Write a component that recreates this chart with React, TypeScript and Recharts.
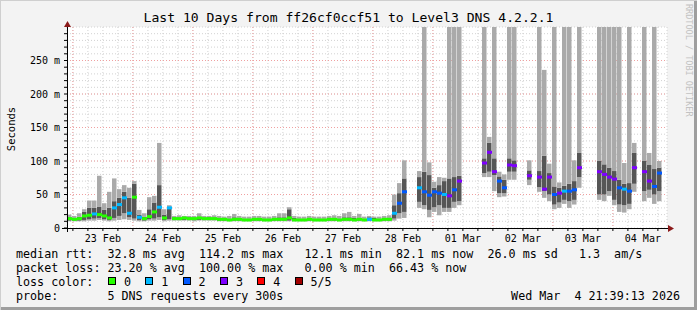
import { ComposedChart, Bar, Scatter, XAxis, YAxis, CartesianGrid } from 'recharts';

// smokeping style: 10 days, one bin = 2 hours, times in hours from 23 Feb 00:00
const N = null;
const START_HOUR = -2.35;
const BIN_HOURS = 2;
const Y_MAX = 300;

const dayLabels = ['23 Feb', '24 Feb', '25 Feb', '26 Feb', '27 Feb', '28 Feb', '01 Mar', '02 Mar', '03 Mar', '04 Mar'];
const lossColors = ['#26ff00', '#00b8ff', '#0059ff', '#7e00ff', '#ff0000', '#a10000'];
const lossLabels = ['0', '1', '2', '3', '4', '5/5'];

// rtt in ms (values above 300 run off the top of the graph)
const minRtt = [
  10, 10, 10, 10, 11, 11, 12, 11, 10, 11,
  12, 13, 12, 11, 10, 10, 11, 11, 12, 10, 11,
  11, 11, 11, 11, 10, 11, 11, 11, 11,
  10, 10, 10, 10, 10, 10, 10, 10, 10, 10, 10, 10, 10, 10, 10, 10, 10, 10,
  10, 10, 10, 10, 10, 10, 10, 10, 10, 10, 10, 10, 10, 10, 10, 10, 10,
  11, 14, 15, N, N, 30, 28, 16, 24, 19, 24, 24, 30, 34, N, N, N, N, 76, 76,
  55, 46, 47, 72, 72, N, N, 64, N, 54, 45, 40, 28, 30, 36, 30, 35, 60, N, N,
  N, 42, 40, 48, 34, 24, 23, 28, 54, N, 40, 45, 36, 40, N,
];
const lowRtt = [
  11, 11, 11, 12, 13, 14, 15, 13, 12, 15,
  18, 22, 16, 14, 12, 11, 13, 14, 16, 12, 13,
  12, 12, 12, 12, 12, 12, 12, 12, 12,
  11, 11, 11, 11, 11, 11, 11, 11, 11, 11, 11, 11, 11, 11, 11, 11, 11, 11,
  11, 11, 11, 11, 11, 11, 11, 11, 11, 11, 11, 11, 11, 11, 11, 11, 11,
  14, 22, 24, N, N, 39, 34, 27, 31, 34, 30, 30, 39, 40, N, N, N, N, 82, 84,
  79, 52, 52, 84, 84, N, N, 72, N, 61, 55, 50, 35, 38, 42, 40, 42, 76, N, N,
  N, 50, 50, 55, 42, 35, 34, 36, 66, N, 55, 57, 50, 55, N,
];
const medRtt = [
  14, 13, 14, 18, 19, 21, 20, 18, 15, 30,
  35, 45, 22, 46, 16, 14, 17, 24, 31, 15, 30,
  14, 14, 15, 14, 14, 15, 14, 14, 14,
  13, 13, 12, 13, 13, 12, 12, 13, 13, 12, 12, 13, 13, 13, 15, 12, 12, 12,
  13, 12, 12, 12, 13, 13, 12, 13, 13, 12, 13, 12, 13, 12, 12, 13, 13,
  22, 37, 54, N, N, 60, 54, 49, 54, 52, 50, 48, 57, 70, N, N, N, N, 97, 113,
  84, 70, 60, 94, 93, N, N, 78, N, 76, 58, 76, 50, 52, 55, 55, 57, 90, N, N,
  N, 84, 80, 76, 73, 60, 58, 55, 90, N, 84, 70, 62, 82, N,
];
const highRtt = [
  16, 15, 17, 24, 30, 30, 32, 27, 30, 40,
  45, 54, 45, 66, 20, 17, 28, 38, 64, 20, 31,
  16, 15, 16, 16, 15, 17, 15, 16, 15,
  15, 15, 14, 16, 15, 14, 14, 15, 15, 14, 14, 15, 16, 16, 28, 15, 14, 14,
  15, 14, 14, 14, 15, 15, 14, 16, 16, 15, 15, 14, 16, 15, 14, 15, 15,
  34, 52, 74, N, N, 76, 84, 79, 60, 64, 70, 74, 76, 78, N, N, N, N, 104, 127,
  104, 77, 72, 104, 101, N, N, 86, N, 85, 108, 82, 62, 60, 63, 66, 70, 112, N, N,
  N, 100, 95, 90, 85, 72, 66, 67, 112, N, 100, 94, 88, 90, N,
];
const maxRtt = [
  20, 18, 22, 28, 41, 41, 78, 37, 54, 74,
  58, 64, 60, 70, 27, 22, 46, 48, 127, 28, 34,
  18, 19, 18, 18, 18, 22, 18, 18, 19,
  18, 17, 18, 21, 18, 17, 17, 18, 18, 17, 17, 18, 22, 22, 31, 18, 17, 17,
  18, 17, 17, 17, 18, 19, 18, 22, 24, 18, 21, 17, 18, 17, 17, 18, 19,
  50, 67, 101, N, N, 85, 400, 98, 69, 76, 75, 400, 400, 400, N, N, N, N, 400, 136,
  400, 84, 80, 400, 400, N, N, 101, N, 400, 236, 96, 400, 68, 400, 400, 101, 400, N, N,
  N, 400, 400, 400, 400, 400, 97, 400, 127, N, 400, 112, 400, 100, N,
];
// lost pings out of 5
const lossCount = [
  0, 0, 0, 0, 0, 1, 0, 0, 0, 1,
  1, 1, 1, 0, 1, 0, 0, 0, 1, 0, 1,
  0, 0, 0, 0, 0, 0, 0, 0, 0,
  0, 0, 0, 0, 0, 0, 0, 0, 0, 0, 0, 0, 0, 0, 0, 0, 0, 0,
  0, 0, 0, 0, 0, 0, 0, 0, 0, 0, 0, 0, 1, 0, 0, 0, 0,
  1, 2, 2, N, N, 1, 2, 2, 2, 2, 1, 3, 2, 3, N, N, N, N, 3, 3,
  3, 2, 2, 3, 3, N, N, 3, N, 3, 3, 3, 2, 3, 1, 2, 2, 3, N, N,
  N, 3, 3, 3, 3, 2, 1, 2, 3, N, 3, 3, 2, 2, N,
];

const statsLine = 'median rtt:  32.8 ms avg  114.2 ms max   12.1 ms min  82.1 ms now  26.0 ms sd   1.3  am/s';
const lossLine = 'packet loss: 23.20 % avg  100.00 % max   0.00 % min  66.43 % now';
const probeLine = 'probe:       5 DNS requests every 300s';
const stampText = 'Wed Mar  4 21:39:13 2026';

const rows = medRtt.map((med, i) => {
  const t = START_HOUR + BIN_HOURS * i + BIN_HOURS / 2;
  if (med === null) {
    return { t, base: null, lowerSmoke: null, coreSmoke: null, upperSmoke: null, med: null, loss: null };
  }
  const top = Math.min(maxRtt[i] as number, Y_MAX);
  return {
    t,
    base: minRtt[i],
    lowerSmoke: (lowRtt[i] as number) - (minRtt[i] as number),
    coreSmoke: (highRtt[i] as number) - (lowRtt[i] as number),
    upperSmoke: top - (highRtt[i] as number),
    med,
    loss: lossCount[i],
  };
});
const medians = rows.filter((r) => r.med !== null);

const xTicks = Array.from({ length: 40 }, (_, i) => i * 6);
const yTicks = Array.from({ length: 30 }, (_, i) => i * 10);
const midnights = dayLabels.map((_, i) => i * 24);

const mono = '"DejaVu Sans Mono", monospace';
const tickStyle = { fontSize: 10, fill: '#000', fontFamily: mono };

const MedianMark = (props: any) => {
  const { cx, cy, payload } = props;
  if (cx == null || cy == null) return null;
  return <rect x={cx - 2.5} y={cy - 1.5} width={5} height={3} fill={lossColors[payload.loss]} />;
};

export default function App() {
  return (
    <div
      style={{
        position: 'relative',
        width: 697,
        height: 310,
        background: '#f3f3f3',
        boxShadow: 'inset 1px 1px 0 #cfcfcf, inset -3px -3px 0 #9e9e9e',
        fontFamily: mono,
        overflow: 'hidden',
      }}
    >
      <style>{'body{margin:0}'}</style>
      <div style={{ position: 'absolute', left: 0, top: 10, width: 697, textAlign: 'center', fontSize: 13.1, lineHeight: '16px' }}>
        Last 10 Days from ff26cf0ccf51 to Level3 DNS 4.2.2.1
      </div>

      <div style={{ position: 'absolute', left: 0, top: 0 }}>
        <ComposedChart
          width={697}
          height={310}
          data={rows}
          margin={{ top: 27, right: 30, bottom: 52, left: 7 }}
          barGap={0}
        >
          <CartesianGrid stroke="#d2d2d2" strokeDasharray="1 2" fill="#ffffff" fillOpacity={1} />
          <CartesianGrid
            stroke="#f0a0a0"
            strokeDasharray="1 2"
            horizontalValues={[50, 100, 150, 200, 250]}
            verticalValues={midnights}
          />
          <XAxis
            type="number"
            dataKey="t"
            domain={[START_HOUR, START_HOUR + 240]}
            allowDataOverflow
            ticks={xTicks}
            interval={0}
            height={30}
            axisLine={false}
            tickLine={{ stroke: '#000' }}
            tickSize={3}
            tickMargin={4}
            tick={tickStyle}
            tickFormatter={(v: number) => (v % 24 === 12 ? dayLabels[(v - 12) / 24] : '')}
          />
          <YAxis
            type="number"
            domain={[0, Y_MAX]}
            allowDataOverflow
            ticks={yTicks}
            interval={0}
            width={60}
            axisLine={false}
            tickLine={{ stroke: '#000' }}
            tickSize={3}
            tickMargin={4}
            tick={tickStyle}
            tickFormatter={(v: number) => (v % 50 === 0 ? (v === 0 ? '0' : `${v} m`) : '')}
          />
          <Bar dataKey="base" stackId="smoke" fill="transparent" barSize={5} isAnimationActive={false} />
          <Bar dataKey="lowerSmoke" stackId="smoke" fill="#aaaaaa" barSize={5} isAnimationActive={false} />
          <Bar dataKey="coreSmoke" stackId="smoke" fill="#565656" barSize={5} isAnimationActive={false} />
          <Bar dataKey="upperSmoke" stackId="smoke" fill="#aaaaaa" barSize={5} isAnimationActive={false} />
          <Scatter data={medians} dataKey="med" shape={MedianMark} isAnimationActive={false} />
        </ComposedChart>
      </div>

      <svg width={697} height={310} style={{ position: 'absolute', left: 0, top: 0, pointerEvents: 'none' }}>
        <path d="M62 228.5H671" stroke="#000" strokeWidth={1} />
        <path d="M67.5 232V25" stroke="#000" strokeWidth={1} />
        <polygon points="668,225 674,228.5 668,232" fill="#8b1a1a" />
        <polygon points="64,27 67.5,21 71,27" fill="#8b1a1a" />
      </svg>

      <div
        style={{
          position: 'absolute',
          left: 11,
          top: 129,
          transform: 'translate(-50%, -50%) rotate(-90deg)',
          fontSize: 10.5,
          whiteSpace: 'nowrap',
        }}
      >
        Seconds
      </div>

      <div
        style={{
          position: 'absolute',
          left: 684,
          top: 4,
          writingMode: 'vertical-rl',
          fontSize: 8.5,
          color: '#c2c2c2',
          whiteSpace: 'nowrap',
        }}
      >
        RRDTOOL / TOBI OETIKER
      </div>

      <div style={{ position: 'absolute', left: 16, top: 247, fontSize: 11.7, lineHeight: '14px', whiteSpace: 'pre' }}>
        <div>{statsLine}</div>
        <div>{lossLine}</div>
        <div>loss color:</div>
        <div>{probeLine}</div>
      </div>
      {lossColors.map((c, i) => (
        <div key={c}>
          <div
            style={{
              position: 'absolute',
              left: 108 + i * 37.3,
              top: 277,
              width: 6,
              height: 6,
              background: c,
              border: '1px solid #000',
            }}
          />
          <div style={{ position: 'absolute', left: 124 + i * 37.3, top: 275, fontSize: 11.7, lineHeight: '14px', whiteSpace: 'pre' }}>
            {lossLabels[i]}
          </div>
        </div>
      ))}
      <div style={{ position: 'absolute', right: 17, top: 289, fontSize: 11.7, lineHeight: '14px', whiteSpace: 'pre' }}>
        {stampText}
      </div>
    </div>
  );
}
